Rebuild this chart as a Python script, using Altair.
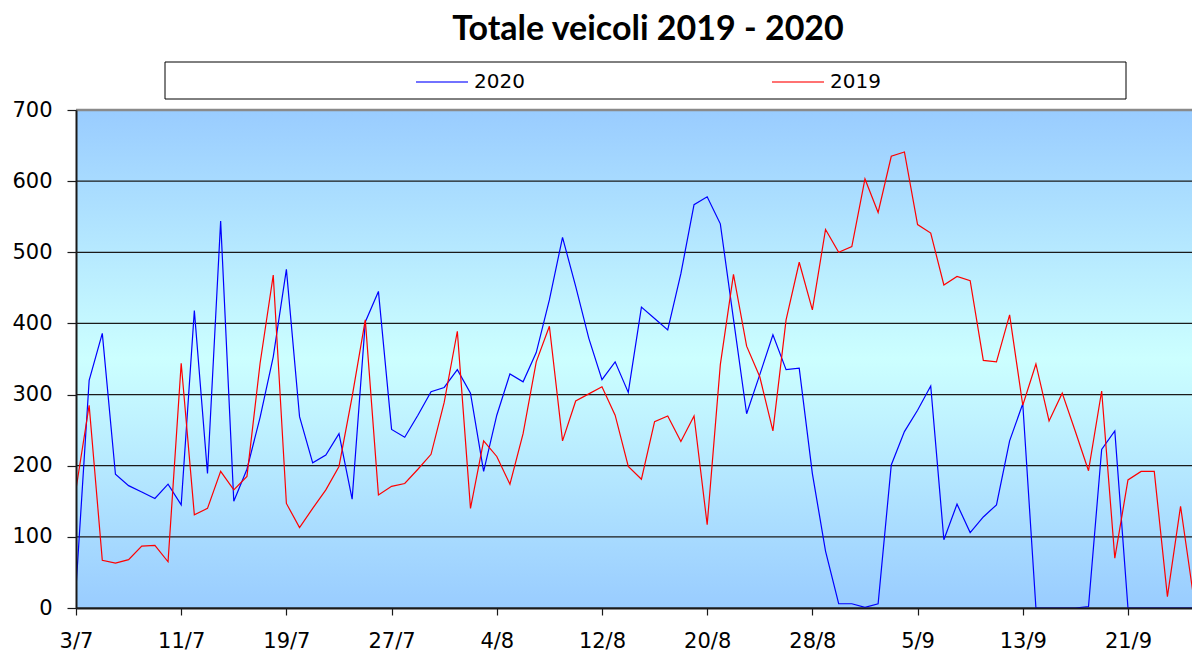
import altair as alt
import pandas as pd

TITLE = "Totale veicoli 2019 - 2020"
series_names = ["2020", "2019"]
series_colors = ["#0000ff", "#ff0000"]
x_tick_labels = ["3/7", "11/7", "19/7", "27/7", "4/8", "12/8", "20/8",
                 "28/8", "5/9", "13/9", "21/9"]
x_tick_step = 8
y_ticks = [0, 100, 200, 300, 400, 500, 600, 700]

v2020 = [28, 320, 386, 188, 172, 163, 154, 174, 145, 418,
         189, 544, 150, 195, 268, 353, 476, 269, 204, 215,
         245, 153, 402, 445, 251, 240, 271, 304, 310, 335,
         302, 192, 271, 329, 318, 359, 433, 521, 452, 379,
         321, 346, 303, 423, 407, 391, 470, 567, 578, 540,
         406, 273, 328, 384, 335, 337, 189, 80, 6, 6,
         1, 6, 201, 248, 278, 312, 96, 146, 106, 128,
         145, 235, 287, 0, 0, 0, 0, 2, 223, 249,
         0, 0, 0, 0, 0, 0, 0]
v2019 = [167, 285, 67, 63, 68, 87, 88, 65, 344, 131,
         140, 192, 166, 185, 344, 468, 147, 113, 140, 166,
         199, 297, 405, 159, 171, 175, 195, 216, 289, 389,
         140, 235, 213, 174, 245, 346, 396, 235, 291, 301,
         311, 271, 199, 181, 262, 270, 234, 270, 117, 342,
         469, 368, 325, 249, 405, 486, 419, 532, 500, 508,
         603, 556, 635, 641, 539, 527, 454, 466, 460, 348,
         346, 412, 285, 343, 263, 302, 248, 193, 305, 70,
         180, 192, 192, 16, 143, 14, 110]

X_MAX = 84.87
Y_MAX = 700

rows = []
for name, vals in zip(series_names, [v2020, v2019]):
    for i, v in enumerate(vals):
        rows.append({"day": i, "serie": name, "val": v})
df = pd.DataFrame(rows)

label_array = "[" + ",".join("'%s'" % s for s in x_tick_labels) + "]"
x_vals = [i * x_tick_step for i in range(len(x_tick_labels))]

one = pd.DataFrame({"a": [0]})

bg = alt.Chart(one).mark_rect(
    color=alt.Gradient(
        gradient="linear",
        stops=[alt.GradientStop(color="#99ccff", offset=0),
               alt.GradientStop(color="#ccffff", offset=0.5),
               alt.GradientStop(color="#99ccff", offset=1)],
        x1=0, x2=0, y1=0, y2=1)
).encode(x=alt.datum(0), x2=alt.datum(X_MAX), y=alt.datum(0), y2=alt.datum(Y_MAX))

grid = alt.Chart(pd.DataFrame({"v": y_ticks})).mark_rule().encode(
    y=alt.Y("v:Q"),
    color=alt.condition(alt.datum.v == Y_MAX, alt.value("#8a8a8a"), alt.value("#1a1a1a")),
    strokeWidth=alt.condition(alt.datum.v == Y_MAX, alt.value(2.5), alt.value(1.2)),
)

legend_box = alt.Chart(one).mark_rect(fill="white", stroke="black", strokeWidth=1).encode(
    x=alt.value(89), x2=alt.value(1050), y=alt.value(-48), y2=alt.value(-11)
)

lines = alt.Chart(df).mark_line(strokeWidth=1.2, clip=True).encode(
    x=alt.X("day:Q",
            scale=alt.Scale(domain=[0, X_MAX], nice=False, zero=False),
            axis=alt.Axis(values=x_vals, labelExpr=label_array + "[round(datum.value/8)]",
                          title=None, grid=False, domainColor="#1a1a1a", domainWidth=2,
                          tickColor="#1a1a1a", tickWidth=1.2, tickSize=7,
                          labelFont="DejaVu Sans", labelFontSize=21, labelColor="black",
                          labelPadding=15, labelFlush=False, labelOverlap=False, zindex=1)),
    y=alt.Y("val:Q",
            scale=alt.Scale(domain=[0, Y_MAX], nice=False),
            axis=alt.Axis(values=y_ticks, title=None, grid=False, domainColor="#1a1a1a",
                          domainWidth=2, tickColor="#1a1a1a", tickWidth=1.2, tickSize=9,
                          labelFont="DejaVu Sans", labelFontSize=21, labelColor="black",
                          labelPadding=15, zindex=1)),
    color=alt.Color("serie:N",
                    scale=alt.Scale(domain=series_names, range=series_colors),
                    legend=alt.Legend(orient="none", legendX=339, legendY=-55,
                                      direction="horizontal", title=None,
                                      symbolType="stroke", symbolSize=2704,
                                      symbolStrokeWidth=2, symbolOpacity=0.55,
                                      labelFont="DejaVu Sans", labelFontSize=20,
                                      labelColor="black", labelOffset=5,
                                      columnPadding=243, padding=0, zindex=2)),
)

chart = alt.layer(bg, grid, legend_box, lines).properties(
    width=1116, height=498,
    padding={"left": 68, "top": 102, "right": 0, "bottom": 45},
    autosize=alt.AutoSizeParams(type="none"),
    title=alt.TitleParams(TITLE, font="Lato", fontSize=34, fontWeight="bold",
                          color="black", anchor="middle", dx=14, offset=8),
).configure_view(stroke=None).configure(background="white")

chart.save("out.html", embed_options={"renderer": "svg", "actions": False})
